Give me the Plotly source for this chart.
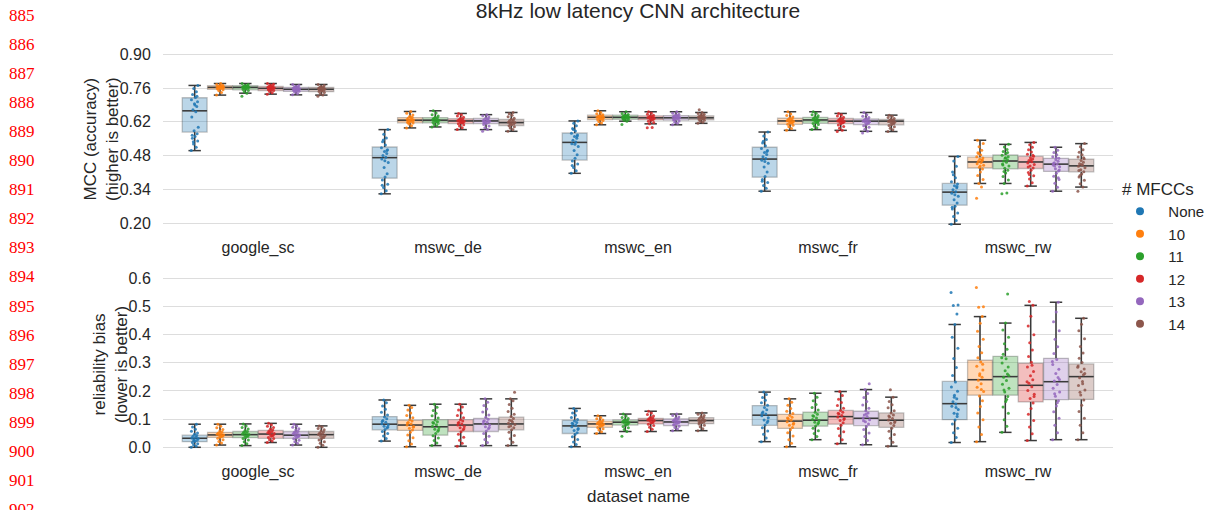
import plotly.graph_objects as go

# ---------------------------------------------------------------- data
DATASETS = ["google_sc", "mswc_de", "mswc_en", "mswc_fr", "mswc_rw"]
MFCC_LABELS = ["None", "10", "11", "12", "13", "14"]
COLORS = ["#1f77b4", "#ff7f0e", "#2ca02c", "#d62728", "#9467bd", "#8c564b"]

MCC_TICKS = [0.20, 0.34, 0.48, 0.62, 0.76, 0.90]
BIAS_TICKS = [0.0, 0.1, 0.2, 0.3, 0.4, 0.5, 0.6]
LINE_NUMBERS = list(range(885, 903))

# box statistics, rows = MFCC setting (None,10..14), cols = dataset
MCC_LO = [[0.501, 0.322, 0.407, 0.333, 0.196],
          [0.731, 0.595, 0.608, 0.585, 0.365],
          [0.739, 0.599, 0.623, 0.588, 0.365],
          [0.735, 0.588, 0.612, 0.585, 0.354],
          [0.732, 0.588, 0.608, 0.581, 0.333],
          [0.731, 0.581, 0.614, 0.580, 0.350]]
MCC_Q1 = [[0.578, 0.387, 0.462, 0.391, 0.275],
          [0.755, 0.616, 0.630, 0.610, 0.429],
          [0.753, 0.616, 0.631, 0.614, 0.425],
          [0.750, 0.613, 0.628, 0.613, 0.427],
          [0.746, 0.613, 0.627, 0.609, 0.415],
          [0.745, 0.605, 0.628, 0.608, 0.413]]
MCC_MED = [[0.666, 0.472, 0.535, 0.466, 0.329],
           [0.763, 0.627, 0.639, 0.624, 0.454],
           [0.763, 0.627, 0.639, 0.628, 0.458],
           [0.759, 0.624, 0.637, 0.623, 0.454],
           [0.755, 0.624, 0.637, 0.623, 0.445],
           [0.755, 0.617, 0.637, 0.623, 0.438]]
MCC_Q3 = [[0.720, 0.516, 0.574, 0.515, 0.365],
          [0.770, 0.638, 0.648, 0.635, 0.474],
          [0.770, 0.638, 0.648, 0.639, 0.483],
          [0.767, 0.633, 0.645, 0.634, 0.477],
          [0.763, 0.634, 0.646, 0.632, 0.469],
          [0.763, 0.630, 0.645, 0.630, 0.466]]
MCC_HI = [[0.771, 0.588, 0.624, 0.578, 0.477],
          [0.779, 0.663, 0.666, 0.662, 0.544],
          [0.779, 0.666, 0.662, 0.662, 0.527],
          [0.779, 0.655, 0.662, 0.655, 0.535],
          [0.775, 0.650, 0.662, 0.659, 0.515],
          [0.775, 0.659, 0.659, 0.648, 0.530]]

BIAS_LO = [[0.000, 0.022, 0.002, 0.020, 0.017],
           [0.008, 0.002, 0.049, 0.002, 0.020],
           [0.006, 0.006, 0.056, 0.027, 0.053],
           [0.017, 0.004, 0.056, 0.013, 0.024],
           [0.008, 0.006, 0.059, 0.009, 0.027],
           [0.000, 0.006, 0.059, 0.004, 0.027]]
BIAS_Q1 = [[0.020, 0.062, 0.049, 0.078, 0.098],
           [0.035, 0.060, 0.071, 0.067, 0.185],
           [0.034, 0.043, 0.079, 0.075, 0.185],
           [0.032, 0.056, 0.083, 0.082, 0.161],
           [0.032, 0.056, 0.077, 0.077, 0.169],
           [0.032, 0.062, 0.084, 0.071, 0.170]]
BIAS_MED = [[0.032, 0.082, 0.076, 0.114, 0.155],
            [0.044, 0.079, 0.083, 0.093, 0.240],
            [0.045, 0.073, 0.089, 0.096, 0.251],
            [0.047, 0.079, 0.095, 0.109, 0.220],
            [0.043, 0.083, 0.090, 0.103, 0.233],
            [0.045, 0.083, 0.095, 0.096, 0.251]]
BIAS_Q3 = [[0.043, 0.109, 0.096, 0.148, 0.234],
           [0.053, 0.096, 0.093, 0.117, 0.309],
           [0.056, 0.098, 0.097, 0.125, 0.323],
           [0.060, 0.098, 0.103, 0.131, 0.298],
           [0.056, 0.103, 0.101, 0.128, 0.316],
           [0.056, 0.107, 0.105, 0.122, 0.296]]
BIAS_HI = [[0.082, 0.168, 0.138, 0.196, 0.436],
           [0.082, 0.149, 0.112, 0.172, 0.464],
           [0.083, 0.153, 0.118, 0.192, 0.441],
           [0.085, 0.153, 0.128, 0.198, 0.504],
           [0.082, 0.172, 0.118, 0.205, 0.515],
           [0.076, 0.172, 0.122, 0.178, 0.458]]

# individual runs (strip points), per MFCC setting, per dataset
MCC_PTS_NONE = [
    [0.501, 0.515, 0.528, 0.541, 0.552, 0.560, 0.571, 0.583, 0.598, 0.640, 0.662, 0.670, 0.684, 0.695, 0.703, 0.712, 0.721, 0.733, 0.745, 0.758, 0.771, 0.565, 0.690, 0.726, 0.538],
    [0.322, 0.335, 0.348, 0.362, 0.379, 0.392, 0.405, 0.431, 0.452, 0.466, 0.474, 0.481, 0.489, 0.497, 0.505, 0.513, 0.524, 0.538, 0.553, 0.569, 0.588, 0.358, 0.459, 0.501, 0.545],
    [0.407, 0.418, 0.431, 0.446, 0.458, 0.469, 0.484, 0.502, 0.518, 0.529, 0.537, 0.544, 0.552, 0.559, 0.566, 0.573, 0.582, 0.593, 0.604, 0.614, 0.624, 0.439, 0.527, 0.561, 0.589],
    [0.333, 0.345, 0.357, 0.369, 0.381, 0.394, 0.412, 0.433, 0.449, 0.461, 0.468, 0.476, 0.485, 0.493, 0.501, 0.510, 0.521, 0.533, 0.547, 0.562, 0.578, 0.374, 0.456, 0.497, 0.540],
    [0.196, 0.212, 0.228, 0.243, 0.259, 0.271, 0.284, 0.298, 0.312, 0.324, 0.331, 0.339, 0.347, 0.356, 0.363, 0.372, 0.389, 0.412, 0.436, 0.458, 0.477, 0.266, 0.318, 0.352, 0.401]]
MCC_PTS_10 = [
    [0.731, 0.742, 0.749, 0.753, 0.756, 0.758, 0.760, 0.762, 0.763, 0.764, 0.765, 0.767, 0.768, 0.770, 0.772, 0.775, 0.779, 0.757, 0.761, 0.766],
    [0.595, 0.604, 0.611, 0.615, 0.618, 0.621, 0.624, 0.626, 0.628, 0.630, 0.633, 0.636, 0.639, 0.643, 0.649, 0.656, 0.663, 0.620, 0.631, 0.625],
    [0.608, 0.615, 0.621, 0.626, 0.629, 0.632, 0.634, 0.636, 0.638, 0.639, 0.641, 0.643, 0.645, 0.647, 0.650, 0.654, 0.659, 0.666, 0.631, 0.640],
    [0.585, 0.593, 0.600, 0.606, 0.610, 0.614, 0.618, 0.621, 0.623, 0.625, 0.627, 0.630, 0.633, 0.636, 0.640, 0.646, 0.653, 0.662, 0.616, 0.628],
    [0.304, 0.350, 0.365, 0.381, 0.398, 0.412, 0.425, 0.432, 0.440, 0.447, 0.452, 0.456, 0.460, 0.465, 0.470, 0.476, 0.483, 0.492, 0.503, 0.517, 0.531, 0.544, 0.437, 0.462, 0.488]]
MCC_PTS_11 = [
    [0.726, 0.739, 0.745, 0.750, 0.754, 0.757, 0.760, 0.762, 0.763, 0.764, 0.766, 0.768, 0.770, 0.772, 0.775, 0.779, 0.756, 0.761, 0.767, 0.759],
    [0.599, 0.604, 0.609, 0.613, 0.617, 0.620, 0.623, 0.625, 0.627, 0.629, 0.631, 0.634, 0.637, 0.640, 0.644, 0.650, 0.657, 0.666, 0.621, 0.632],
    [0.609, 0.623, 0.627, 0.630, 0.632, 0.634, 0.636, 0.638, 0.639, 0.640, 0.642, 0.644, 0.646, 0.648, 0.651, 0.655, 0.662, 0.635, 0.641, 0.645],
    [0.588, 0.596, 0.603, 0.609, 0.613, 0.617, 0.621, 0.625, 0.627, 0.629, 0.632, 0.635, 0.638, 0.641, 0.645, 0.650, 0.656, 0.662, 0.619, 0.631],
    [0.322, 0.326, 0.365, 0.379, 0.394, 0.408, 0.420, 0.428, 0.437, 0.446, 0.453, 0.458, 0.463, 0.469, 0.476, 0.482, 0.489, 0.497, 0.506, 0.516, 0.527, 0.441, 0.472, 0.493, 0.415]]
MCC_PTS_12 = [
    [0.735, 0.741, 0.746, 0.750, 0.753, 0.756, 0.758, 0.759, 0.761, 0.763, 0.765, 0.767, 0.770, 0.773, 0.776, 0.779, 0.752, 0.757, 0.762, 0.768],
    [0.588, 0.596, 0.603, 0.608, 0.612, 0.615, 0.618, 0.621, 0.623, 0.625, 0.627, 0.629, 0.632, 0.635, 0.639, 0.644, 0.650, 0.655, 0.617, 0.628],
    [0.596, 0.597, 0.612, 0.618, 0.623, 0.627, 0.630, 0.633, 0.635, 0.637, 0.639, 0.641, 0.643, 0.645, 0.648, 0.652, 0.657, 0.662, 0.631, 0.640],
    [0.580, 0.585, 0.594, 0.601, 0.607, 0.612, 0.616, 0.619, 0.622, 0.624, 0.626, 0.629, 0.632, 0.635, 0.639, 0.644, 0.650, 0.655, 0.617, 0.628],
    [0.354, 0.368, 0.383, 0.397, 0.410, 0.420, 0.429, 0.437, 0.444, 0.450, 0.455, 0.460, 0.466, 0.472, 0.478, 0.486, 0.495, 0.505, 0.515, 0.525, 0.535, 0.433, 0.462, 0.482, 0.402]]
MCC_PTS_13 = [
    [0.732, 0.738, 0.743, 0.747, 0.750, 0.752, 0.754, 0.755, 0.757, 0.759, 0.761, 0.763, 0.765, 0.768, 0.771, 0.775, 0.749, 0.753, 0.758, 0.762],
    [0.581, 0.588, 0.596, 0.603, 0.609, 0.613, 0.617, 0.620, 0.623, 0.625, 0.627, 0.630, 0.633, 0.636, 0.640, 0.645, 0.650, 0.616, 0.628, 0.619],
    [0.608, 0.614, 0.619, 0.624, 0.628, 0.631, 0.634, 0.636, 0.638, 0.640, 0.642, 0.644, 0.646, 0.649, 0.652, 0.656, 0.662, 0.630, 0.639, 0.643],
    [0.574, 0.581, 0.590, 0.598, 0.604, 0.609, 0.614, 0.618, 0.621, 0.623, 0.625, 0.628, 0.631, 0.634, 0.638, 0.643, 0.650, 0.659, 0.616, 0.627],
    [0.333, 0.349, 0.366, 0.381, 0.395, 0.407, 0.417, 0.426, 0.434, 0.441, 0.446, 0.451, 0.457, 0.463, 0.469, 0.476, 0.484, 0.493, 0.503, 0.515, 0.421, 0.448, 0.472, 0.389, 0.437]]
MCC_PTS_14 = [
    [0.726, 0.731, 0.737, 0.742, 0.746, 0.749, 0.752, 0.754, 0.756, 0.758, 0.760, 0.762, 0.764, 0.767, 0.771, 0.775, 0.748, 0.753, 0.757, 0.761],
    [0.581, 0.589, 0.595, 0.600, 0.604, 0.608, 0.612, 0.615, 0.617, 0.619, 0.622, 0.625, 0.628, 0.631, 0.635, 0.641, 0.648, 0.654, 0.659, 0.611],
    [0.614, 0.619, 0.623, 0.627, 0.630, 0.632, 0.634, 0.636, 0.638, 0.640, 0.642, 0.644, 0.646, 0.649, 0.652, 0.655, 0.659, 0.670, 0.633, 0.641],
    [0.580, 0.587, 0.594, 0.600, 0.605, 0.609, 0.613, 0.617, 0.620, 0.622, 0.624, 0.626, 0.628, 0.631, 0.634, 0.638, 0.643, 0.648, 0.615, 0.625],
    [0.333, 0.350, 0.364, 0.378, 0.392, 0.404, 0.414, 0.422, 0.430, 0.436, 0.441, 0.447, 0.453, 0.460, 0.467, 0.475, 0.484, 0.494, 0.505, 0.517, 0.530, 0.419, 0.444, 0.471, 0.398]]

BIAS_PTS_NONE = [
    [0.000, 0.004, 0.009, 0.013, 0.017, 0.021, 0.025, 0.028, 0.031, 0.033, 0.036, 0.039, 0.042, 0.046, 0.051, 0.057, 0.064, 0.072, 0.082, 0.024],
    [0.022, 0.031, 0.040, 0.049, 0.056, 0.063, 0.069, 0.075, 0.080, 0.084, 0.089, 0.095, 0.101, 0.108, 0.115, 0.124, 0.135, 0.147, 0.158, 0.168, 0.072, 0.092],
    [0.002, 0.010, 0.019, 0.028, 0.037, 0.045, 0.052, 0.060, 0.067, 0.073, 0.078, 0.083, 0.088, 0.093, 0.099, 0.106, 0.114, 0.122, 0.130, 0.138, 0.063, 0.085],
    [0.020, 0.033, 0.046, 0.058, 0.069, 0.079, 0.088, 0.097, 0.105, 0.112, 0.118, 0.125, 0.133, 0.141, 0.149, 0.158, 0.167, 0.177, 0.187, 0.196, 0.093, 0.121],
    [0.017, 0.035, 0.052, 0.068, 0.083, 0.097, 0.109, 0.121, 0.134, 0.146, 0.154, 0.162, 0.172, 0.185, 0.199, 0.214, 0.232, 0.255, 0.283, 0.315, 0.352, 0.391, 0.436, 0.473, 0.503, 0.505, 0.550, 0.141, 0.178, 0.118]]
BIAS_PTS_10 = [
    [0.008, 0.015, 0.021, 0.027, 0.032, 0.036, 0.039, 0.042, 0.044, 0.046, 0.048, 0.051, 0.054, 0.058, 0.063, 0.069, 0.075, 0.082, 0.040, 0.050],
    [0.002, 0.012, 0.023, 0.034, 0.044, 0.053, 0.061, 0.068, 0.074, 0.079, 0.083, 0.088, 0.093, 0.098, 0.105, 0.113, 0.122, 0.132, 0.141, 0.149, 0.071, 0.086],
    [0.049, 0.055, 0.061, 0.066, 0.070, 0.074, 0.077, 0.080, 0.082, 0.084, 0.086, 0.088, 0.091, 0.094, 0.097, 0.101, 0.106, 0.112, 0.079, 0.087],
    [0.002, 0.014, 0.027, 0.040, 0.052, 0.062, 0.070, 0.078, 0.085, 0.091, 0.096, 0.101, 0.107, 0.113, 0.120, 0.128, 0.138, 0.149, 0.160, 0.172, 0.082, 0.104],
    [0.020, 0.045, 0.072, 0.098, 0.122, 0.145, 0.165, 0.182, 0.198, 0.213, 0.226, 0.238, 0.249, 0.261, 0.274, 0.288, 0.303, 0.318, 0.336, 0.358, 0.384, 0.412, 0.440, 0.464, 0.497, 0.499, 0.567, 0.205, 0.255, 0.295]]
BIAS_PTS_11 = [
    [0.006, 0.013, 0.020, 0.026, 0.031, 0.035, 0.039, 0.042, 0.045, 0.047, 0.050, 0.053, 0.056, 0.060, 0.065, 0.070, 0.076, 0.083, 0.041, 0.052],
    [0.006, 0.015, 0.024, 0.033, 0.041, 0.049, 0.057, 0.064, 0.070, 0.075, 0.080, 0.085, 0.091, 0.097, 0.104, 0.112, 0.121, 0.131, 0.142, 0.153, 0.061, 0.088],
    [0.039, 0.056, 0.063, 0.069, 0.074, 0.078, 0.082, 0.085, 0.088, 0.090, 0.092, 0.094, 0.096, 0.099, 0.102, 0.106, 0.111, 0.118, 0.084, 0.093],
    [0.027, 0.038, 0.049, 0.059, 0.068, 0.076, 0.083, 0.089, 0.094, 0.099, 0.104, 0.110, 0.117, 0.124, 0.132, 0.141, 0.152, 0.165, 0.178, 0.192, 0.087, 0.112],
    [0.053, 0.075, 0.098, 0.121, 0.143, 0.163, 0.180, 0.196, 0.210, 0.224, 0.237, 0.249, 0.260, 0.272, 0.285, 0.299, 0.314, 0.330, 0.348, 0.368, 0.391, 0.416, 0.441, 0.544, 0.203, 0.255, 0.318, 0.170]]
BIAS_PTS_12 = [
    [0.017, 0.022, 0.027, 0.031, 0.035, 0.039, 0.043, 0.046, 0.049, 0.052, 0.055, 0.058, 0.061, 0.065, 0.070, 0.075, 0.080, 0.085, 0.041, 0.053],
    [0.004, 0.014, 0.025, 0.036, 0.046, 0.055, 0.062, 0.069, 0.074, 0.079, 0.083, 0.088, 0.093, 0.098, 0.105, 0.113, 0.122, 0.132, 0.143, 0.153, 0.066, 0.086],
    [0.056, 0.064, 0.071, 0.077, 0.082, 0.086, 0.090, 0.093, 0.095, 0.097, 0.099, 0.101, 0.104, 0.107, 0.111, 0.116, 0.122, 0.128, 0.088, 0.100],
    [0.013, 0.027, 0.041, 0.055, 0.067, 0.078, 0.087, 0.095, 0.102, 0.108, 0.113, 0.118, 0.124, 0.131, 0.139, 0.148, 0.159, 0.171, 0.184, 0.198, 0.099, 0.121],
    [0.024, 0.048, 0.072, 0.095, 0.117, 0.138, 0.157, 0.173, 0.188, 0.202, 0.215, 0.227, 0.240, 0.254, 0.269, 0.285, 0.302, 0.322, 0.345, 0.371, 0.400, 0.431, 0.465, 0.504, 0.518, 0.180, 0.233, 0.291]]
BIAS_PTS_13 = [
    [0.008, 0.014, 0.020, 0.025, 0.030, 0.034, 0.038, 0.041, 0.044, 0.047, 0.050, 0.053, 0.057, 0.061, 0.066, 0.071, 0.076, 0.082, 0.039, 0.051],
    [0.006, 0.017, 0.028, 0.039, 0.049, 0.058, 0.066, 0.073, 0.079, 0.084, 0.089, 0.094, 0.100, 0.107, 0.115, 0.125, 0.136, 0.148, 0.160, 0.172, 0.070, 0.092],
    [0.059, 0.065, 0.070, 0.075, 0.079, 0.083, 0.086, 0.089, 0.091, 0.093, 0.095, 0.098, 0.101, 0.104, 0.108, 0.113, 0.118, 0.081, 0.088, 0.096],
    [0.009, 0.024, 0.038, 0.051, 0.063, 0.074, 0.083, 0.091, 0.098, 0.104, 0.109, 0.115, 0.122, 0.130, 0.139, 0.150, 0.163, 0.177, 0.191, 0.205, 0.226, 0.094, 0.118],
    [0.027, 0.052, 0.078, 0.103, 0.126, 0.147, 0.165, 0.181, 0.196, 0.210, 0.223, 0.235, 0.248, 0.262, 0.277, 0.294, 0.312, 0.333, 0.357, 0.384, 0.414, 0.446, 0.480, 0.515, 0.190, 0.241, 0.305, 0.158]]
BIAS_PTS_14 = [
    [0.000, 0.007, 0.014, 0.020, 0.026, 0.031, 0.035, 0.039, 0.042, 0.045, 0.048, 0.051, 0.054, 0.058, 0.062, 0.067, 0.072, 0.076, 0.037, 0.049],
    [0.006, 0.018, 0.030, 0.042, 0.053, 0.062, 0.069, 0.076, 0.081, 0.085, 0.090, 0.096, 0.102, 0.109, 0.117, 0.127, 0.139, 0.152, 0.165, 0.172, 0.195, 0.073, 0.094],
    [0.059, 0.066, 0.073, 0.078, 0.083, 0.087, 0.090, 0.093, 0.095, 0.097, 0.100, 0.103, 0.106, 0.109, 0.113, 0.117, 0.122, 0.088, 0.099, 0.091],
    [0.004, 0.018, 0.032, 0.045, 0.057, 0.068, 0.077, 0.085, 0.092, 0.097, 0.102, 0.108, 0.115, 0.122, 0.130, 0.140, 0.151, 0.163, 0.178, 0.204, 0.088, 0.111],
    [0.027, 0.052, 0.078, 0.103, 0.127, 0.149, 0.168, 0.186, 0.203, 0.219, 0.234, 0.247, 0.258, 0.268, 0.278, 0.289, 0.301, 0.316, 0.335, 0.358, 0.385, 0.414, 0.437, 0.458, 0.195, 0.262, 0.284, 0.226]]

MCC_PTS = [MCC_PTS_NONE, MCC_PTS_10, MCC_PTS_11, MCC_PTS_12, MCC_PTS_13, MCC_PTS_14]
BIAS_PTS = [BIAS_PTS_NONE, BIAS_PTS_10, BIAS_PTS_11, BIAS_PTS_12, BIAS_PTS_13, BIAS_PTS_14]

# ---------------------------------------------------------------- layout constants
W, H = 1214, 510
ML, MR, MT, MB = 163, 101, 52, 60
PW, PH = W - ML - MR, H - MT - MB
FONT = "Liberation Sans, Arial, sans-serif"
TXT = "#262626"
NBSP = "\u00a0"

def px_x(px):
    return (px - ML) / PW

def px_y(py):
    return (H - MB - py) / PH

HUE_STEP = 0.8 / len(MFCC_LABELS)
BOX_W = HUE_STEP * 0.98
CAP_HALF = BOX_W * 0.25
JIT_W = 0.02
JIT = [-0.9, 0.4, -0.3, 0.8, -0.6, 0.1, 0.65, -0.15, 0.95, -0.75, 0.3, -0.45, 0.55, -0.05,
       0.75, -0.85, 0.2, -0.55, 0.45, -0.25, 0.85, -0.65, 0.05, 0.6, -0.35, 0.9, -0.95, 0.35, -0.1, 0.7]


def rgba(hexc, a):
    h = hexc.lstrip("#")
    return "rgba(%d,%d,%d,%s)" % (int(h[0:2], 16), int(h[2:4], 16), int(h[4:6], 16), a)


fig = go.Figure()

panels = [
    ("x", "y", MCC_LO, MCC_Q1, MCC_MED, MCC_Q3, MCC_HI, MCC_PTS),
    ("x2", "y2", BIAS_LO, BIAS_Q1, BIAS_MED, BIAS_Q3, BIAS_HI, BIAS_PTS),
]

for xa, ya, LO, Q1, MED, Q3, HI, PTS in panels:
    # boxes
    for j, col in enumerate(COLORS):
        pos = [i + (j - (len(COLORS) - 1) / 2) * HUE_STEP for i in range(len(DATASETS))]
        fig.add_trace(go.Box(
            x=pos, q1=Q1[j], median=MED[j], q3=Q3[j], lowerfence=LO[j], upperfence=HI[j],
            orientation="v", width=BOX_W, fillcolor=rgba(col, 0.3),
            line=dict(color="rgba(70,70,70,0.32)", width=1.3), whiskerwidth=0,
            boxpoints=False, showlegend=False, hoverinfo="skip", xaxis=xa, yaxis=ya))
    # whiskers, caps, medians (dark)
    lx, ly = [], []
    for j in range(len(COLORS)):
        for i in range(len(DATASETS)):
            p = i + (j - (len(COLORS) - 1) / 2) * HUE_STEP
            lx += [p, p, None, p, p, None]
            ly += [Q3[j][i], HI[j][i], None, Q1[j][i], LO[j][i], None]
            lx += [p - CAP_HALF, p + CAP_HALF, None, p - CAP_HALF, p + CAP_HALF, None]
            ly += [HI[j][i], HI[j][i], None, LO[j][i], LO[j][i], None]
            lx += [p - BOX_W / 2, p + BOX_W / 2, None]
            ly += [MED[j][i], MED[j][i], None]
    fig.add_trace(go.Scatter(x=lx, y=ly, mode="lines", line=dict(color="#3a3a3a", width=1.5),
                             showlegend=False, hoverinfo="skip", xaxis=xa, yaxis=ya))
    # strip points
    for j, col in enumerate(COLORS):
        px_, py_ = [], []
        for i in range(len(DATASETS)):
            p = i + (j - (len(COLORS) - 1) / 2) * HUE_STEP
            for k, v in enumerate(PTS[j][i]):
                px_.append(p + JIT[k % len(JIT)] * JIT_W)
                py_.append(v)
        fig.add_trace(go.Scatter(x=px_, y=py_, mode="markers",
                                 marker=dict(color=col, size=3, opacity=0.85, line=dict(width=0)),
                                 showlegend=False, hoverinfo="skip", xaxis=xa, yaxis=ya))

# legend entries
for lab, col in zip(MFCC_LABELS, COLORS):
    fig.add_trace(go.Scatter(x=[None], y=[None], mode="markers", name=NBSP * 2 + lab,
                             marker=dict(color=col, size=8), xaxis="x", yaxis="y"))

axis_common = dict(showline=False, zeroline=False,
                   tickfont=dict(family=FONT, size=16, color=TXT), ticks="outside",
                   tickcolor="rgba(0,0,0,0)")

fig.update_layout(
    width=W, height=H, autosize=False,
    margin=dict(l=ML, r=MR, t=MT, b=MB, pad=0, autoexpand=False),
    paper_bgcolor="white", plot_bgcolor="white",
    boxmode="overlay",
    font=dict(family=FONT, color=TXT),
    title=dict(text="8kHz low latency CNN architecture", x=0.5, xref="paper", xanchor="center",
               y=1 - 11 / H, yref="container", yanchor="middle",
               font=dict(family=FONT, size=21, color=TXT)),
    xaxis=dict(domain=[0, 1], anchor="y", range=[-0.5, 4.5], tickvals=list(range(len(DATASETS))),
               ticktext=DATASETS, showgrid=False, ticklen=7, automargin=False, **axis_common),
    yaxis=dict(domain=[px_y(226), 1], anchor="x", range=[0.1888, 0.9095], tickvals=MCC_TICKS,
               ticktext=["%.2f" % t for t in MCC_TICKS], ticklen=8, automargin=False,
               showgrid=True, gridcolor="#dddddd", gridwidth=1, **axis_common),
    xaxis2=dict(domain=[0, 1], anchor="y2", range=[-0.5, 4.5], tickvals=list(range(len(DATASETS))),
                ticktext=DATASETS, showgrid=False, ticklen=7, automargin=False, **axis_common),
    yaxis2=dict(domain=[0, px_y(275)], anchor="x2", range=[-0.0096, 0.6117], tickvals=BIAS_TICKS,
                ticktext=["%.1f" % t for t in BIAS_TICKS], ticklen=8, automargin=False,
                showgrid=True, gridcolor="#dddddd", gridwidth=1, **axis_common),
    legend=dict(title=dict(text="# MFCCs", font=dict(family=FONT, size=17, color=TXT)),
                font=dict(family=FONT, size=15, color=TXT),
                x=px_x(1120), xanchor="left", y=px_y(173), yanchor="top",
                bgcolor="rgba(0,0,0,0)", borderwidth=0, itemsizing="trace"),
)

ann = []
# y-axis titles (two lines each)
ann.append(dict(text="MCC (accuracy)<br>(higher is better)", x=px_x(101), y=px_y(139), textangle=-90))
ann.append(dict(text="reliability bias<br>(lower is better)", x=px_x(110), y=px_y(365), textangle=-90))
ann.append(dict(text="dataset name", x=0.5, y=px_y(497), textangle=0))
for a in ann:
    a.update(xref="paper", yref="paper", xanchor="center", yanchor="middle", showarrow=False,
             font=dict(family=FONT, size=17, color=TXT))
# page line numbers
for k, n in enumerate(LINE_NUMBERS):
    ann.append(dict(text=str(n), x=px_x(7), y=px_y(15 + 29.1 * k), xref="paper", yref="paper",
                    xanchor="left", yanchor="middle", showarrow=False,
                    font=dict(family="Liberation Serif, Times New Roman, serif", size=17, color="#ff0000")))
fig.update_layout(annotations=ann)

fig.write_html("out.html")
